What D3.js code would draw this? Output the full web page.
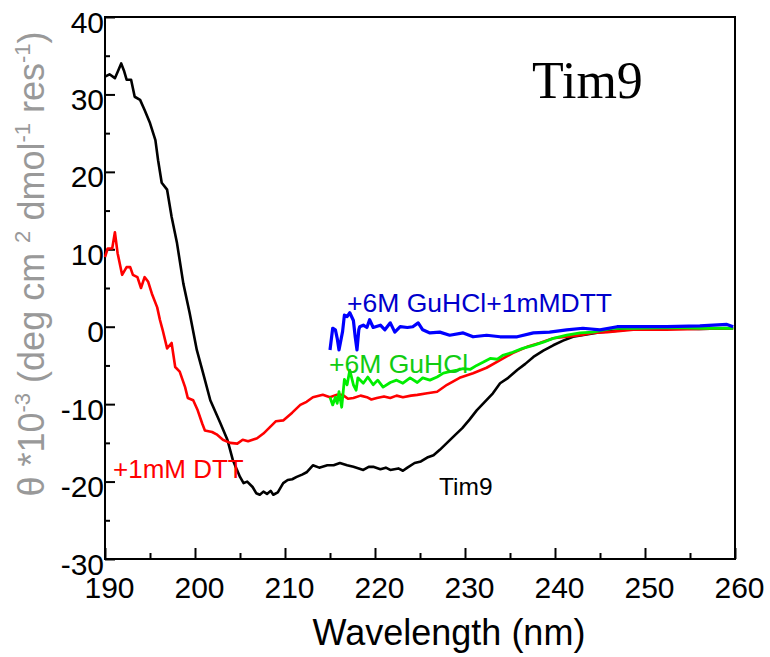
<!DOCTYPE html>
<html>
<head>
<meta charset="utf-8">
<script src="https://cdn.jsdelivr.net/npm/d3@7"></script>
<style>
  body { margin: 0; background: #fff; }
</style>
</head>
<body>
<div id="chart"></div>
<script>
// ---- data (wavelength nm, theta *10^-3) ----
var xTicks = [190, 200, 210, 220, 230, 240, 250, 260];
var yTicks = [-30, -20, -10, 0, 10, 20, 30, 40];

var tim9 = [
  [190.0, 32.3], [190.5, 32.6], [191.1, 32.1], [191.4, 32.9], [191.8, 34.0], [192.1, 33.1],
  [192.4, 31.9], [192.9, 31.9], [193.3, 29.7], [193.9, 29.3], [194.4, 28.0], [195.0, 26.3],
  [195.6, 24.1], [195.9, 21.5], [196.3, 18.6], [196.9, 17.7], [197.4, 14.2], [198.0, 10.8],
  [198.7, 5.6], [199.4, 1.8], [200.2, -3.0], [200.9, -6.0], [201.7, -9.5], [202.8, -12.4],
  [203.6, -14.6], [204.2, -17.2], [205.0, -19.4], [205.4, -20.2], [205.8, -20.0], [206.4, -20.7],
  [206.8, -21.5], [207.2, -21.7], [207.6, -21.3], [208.0, -21.6], [208.4, -21.2], [208.7, -21.7],
  [209.2, -21.4], [209.8, -20.2], [210.3, -19.8], [210.8, -19.7], [211.3, -19.4], [211.9, -19.1],
  [212.4, -18.8], [213.1, -17.9], [213.8, -18.2], [214.7, -17.9], [215.4, -17.9], [216.1, -17.6],
  [216.9, -17.9], [217.6, -18.1], [218.2, -18.3], [218.7, -18.5], [219.3, -18.1], [219.8, -18.1],
  [220.6, -18.4], [221.2, -18.2], [221.7, -18.5], [222.6, -18.3], [223.1, -18.6], [223.6, -18.2],
  [224.4, -17.6], [225.1, -17.4], [225.8, -16.9], [226.5, -16.6], [227.2, -15.9], [228.0, -15.0],
  [228.8, -14.1], [229.7, -13.1], [230.5, -12.0], [231.3, -10.8], [232.2, -9.7], [233.1, -8.6],
  [233.9, -7.3], [234.8, -6.6], [235.8, -5.6], [236.7, -4.8], [237.6, -3.9], [238.7, -3.1],
  [239.8, -2.4], [240.9, -1.8], [242.0, -1.3], [243.5, -1.0], [245.0, -0.7], [246.9, -0.5],
  [248.7, -0.3], [252.0, -0.2], [256.0, -0.3], [259.8, -0.2]
];

var dtt = [
  [190.0, 9.0], [190.3, 10.1], [190.8, 10.1], [191.1, 12.2], [191.4, 9.5], [191.9, 6.7],
  [192.4, 7.7], [192.8, 7.7], [193.1, 6.7], [193.6, 6.4], [194.0, 5.0], [194.4, 6.4],
  [194.8, 5.8], [195.2, 4.3], [195.8, 2.5], [196.1, 0.9], [196.4, -0.4], [196.9, -2.8],
  [197.4, -2.1], [197.8, -5.2], [198.3, -5.8], [198.9, -7.8], [199.2, -9.2], [199.8, -9.5],
  [200.3, -10.8], [200.8, -12.5], [201.1, -13.4], [201.9, -13.6], [202.4, -13.9], [203.1, -14.6],
  [203.9, -15.0], [204.7, -15.1], [205.3, -14.6], [205.9, -14.8], [206.4, -14.6], [206.9, -14.4],
  [207.6, -13.8], [208.3, -13.0], [209.0, -12.2], [209.8, -12.1], [210.8, -11.1], [211.7, -10.1],
  [212.4, -9.7], [213.1, -9.1], [214.2, -8.8], [215.0, -9.1], [215.7, -8.8], [216.4, -8.8],
  [217.0, -9.3], [217.6, -9.2], [218.4, -8.9], [219.1, -9.1], [219.6, -9.4], [220.2, -9.2],
  [221.0, -9.0], [221.7, -9.2], [222.4, -8.9], [223.1, -9.1], [224.0, -8.9], [224.7, -8.8],
  [225.8, -8.6], [226.9, -8.4], [228.0, -7.5], [229.4, -6.6], [230.9, -6.0], [232.4, -5.3],
  [233.9, -4.3], [235.3, -3.4], [236.9, -2.6], [238.3, -2.1], [239.8, -1.5], [241.3, -1.3],
  [242.8, -1.1], [244.2, -0.8], [245.8, -0.7], [248.7, -0.4], [252.4, -0.4], [256.0, -0.3],
  [259.8, -0.2]
];

var guhcl = [
  [215.0, -9.1], [215.3, -10.1], [215.6, -9.1], [215.8, -9.9], [216.0, -8.4], [216.3, -10.4],
  [216.6, -6.8], [216.9, -7.5], [217.2, -5.6], [217.6, -7.5], [217.9, -8.2], [218.1, -6.6],
  [218.7, -7.3], [219.2, -6.5], [219.8, -7.5], [220.3, -6.9], [220.9, -7.8], [221.7, -7.2],
  [222.4, -6.9], [223.1, -7.3], [223.9, -6.6], [224.7, -7.2], [225.3, -6.6], [226.1, -6.9],
  [226.9, -6.5], [227.6, -6.0], [228.3, -5.8], [229.1, -5.6], [229.8, -5.4], [230.6, -5.5],
  [231.3, -5.0], [232.0, -4.6], [232.8, -4.1], [233.6, -4.2], [234.2, -3.7], [235.3, -3.3],
  [236.4, -2.8], [237.6, -2.4], [238.7, -2.0], [239.8, -1.5], [241.3, -1.1], [242.8, -0.8],
  [244.2, -0.7], [246.4, -0.2], [248.7, -0.2], [253.0, -0.1], [256.5, -0.2], [259.8, -0.2]
];

var guhclDtt = [
  [215.0, -3.0], [215.3, -0.2], [215.6, -0.4], [215.8, -1.5], [216.0, -3.0], [216.4, -0.6],
  [216.6, 1.5], [216.9, 1.3], [217.2, 1.8], [217.6, 0.8], [217.8, -1.3], [218.0, -3.0],
  [218.2, -0.4], [218.3, 0.0], [218.7, 0.2], [219.1, -0.1], [219.4, 0.9], [219.8, -0.1],
  [220.6, 0.2], [221.1, -0.4], [221.7, 0.5], [222.2, -0.7], [222.8, 0.0], [223.6, -0.1],
  [224.2, 0.0], [224.8, 0.5], [225.3, -0.4], [226.1, -0.8], [227.2, -0.7], [228.3, -1.1],
  [229.8, -0.8], [230.9, -1.3], [232.4, -1.1], [233.9, -1.3], [235.8, -1.3], [237.6, -0.8],
  [239.4, -0.7], [241.3, -0.4], [243.1, -0.2], [245.0, -0.4], [246.9, 0.0], [248.7, 0.0],
  [252.4, 0.0], [256.1, 0.1], [259.1, 0.3], [259.8, 0.0]
];

// ---- layout ----
var width = 770, height = 657;
var margin = {top: 17, right: 35, bottom: 98, left: 105};
var sans = "Liberation Sans, Arial, sans-serif";

var svg = d3.select("#chart").append("svg")
  .attr("width", width)
  .attr("height", height)
  .style("font-family", sans);

var x = d3.scaleLinear().domain([190, 260]).range([margin.left, width - margin.right]);
var y = d3.scaleLinear().domain([-30, 40]).range([height - margin.bottom, margin.top]);

// minor ticks
svg.append("g")
  .attr("transform", "translate(0," + y(-30) + ")")
  .call(d3.axisBottom(x).tickValues(d3.range(195, 260, 10)).tickSize(-6).tickFormat(""))
  .call(function(g) { g.select(".domain").remove(); })
  .selectAll("line").attr("stroke-width", 2);

svg.append("g")
  .attr("transform", "translate(" + x(190) + ",0)")
  .call(d3.axisLeft(y).tickValues(d3.range(-25, 40, 10)).tickSize(-5).tickFormat(""))
  .call(function(g) { g.select(".domain").remove(); })
  .selectAll("line").attr("stroke-width", 2);

// major ticks + labels (plain hyphen minus like the original)
var plain = function(d) { return String(d); };

var xAxis = svg.append("g")
  .attr("transform", "translate(0," + y(-30) + ")")
  .call(d3.axisBottom(x).tickValues(xTicks).tickSize(-11).tickPadding(18).tickFormat(plain))
  .call(function(g) { g.select(".domain").remove(); });
xAxis.selectAll("line").attr("stroke-width", 2);
xAxis.selectAll("text")
  .attr("font-size", 30)
  .attr("font-family", sans)
  .attr("fill", "#000")
  .attr("dx", 4);

var yAxis = svg.append("g")
  .attr("transform", "translate(" + x(190) + ",0)")
  .call(d3.axisLeft(y).tickValues(yTicks).tickSize(-10).tickPadding(1).tickFormat(plain))
  .call(function(g) { g.select(".domain").remove(); });
yAxis.selectAll("line").attr("stroke-width", 2);
yAxis.selectAll("text")
  .attr("font-size", 30)
  .attr("font-family", sans)
  .attr("fill", "#000")
  .attr("dy", "0.5em");

// frame
svg.append("rect")
  .attr("x", x(190)).attr("y", y(40))
  .attr("width", x(260) - x(190)).attr("height", y(-30) - y(40))
  .attr("fill", "none").attr("stroke", "#000").attr("stroke-width", 2);

// curves
var line = d3.line()
  .x(function(d) { return x(d[0]); })
  .y(function(d) { return y(d[1]); });

var series = [
  {data: tim9, color: "#000000", w: 2.6},
  {data: dtt, color: "#ff0000", w: 2.6},
  {data: guhcl, color: "#00ee00", w: 2.8},
  {data: guhclDtt, color: "#0000ff", w: 3.2}
];

svg.append("g").selectAll("path")
  .data(series)
  .enter()
  .append("path")
    .attr("d", function(d) { return line(d.data); })
    .attr("fill", "none")
    .attr("stroke", function(d) { return d.color; })
    .attr("stroke-width", function(d) { return d.w; })
    .attr("stroke-linejoin", "round");

// annotations
svg.append("text").attr("x", 347).attr("y", 312).attr("font-size", 26.5)
  .attr("fill", "#0000cc").text("+6M GuHCl+1mMDTT");
svg.append("text").attr("x", 329).attr("y", 373).attr("font-size", 26.5)
  .attr("fill", "#11cc11").text("+6M GuHCl");
svg.append("text").attr("x", 113).attr("y", 478).attr("font-size", 26)
  .attr("fill", "#ff0000").text("+1mM DTT");
svg.append("text").attr("x", 439).attr("y", 495).attr("font-size", 24.5)
  .attr("fill", "#000").text("Tim9");

svg.append("text").attr("x", 532).attr("y", 98).attr("font-size", 52)
  .style("font-family", "Liberation Serif, Times New Roman, serif")
  .attr("fill", "#000").text("Tim9");

// axis titles
svg.append("text")
  .attr("x", 449).attr("y", 645)
  .attr("text-anchor", "middle").attr("font-size", 36)
  .attr("fill", "#000").text("Wavelength (nm)");

var yt = svg.append("text")
  .attr("transform", "translate(44,264) rotate(-90)")
  .attr("text-anchor", "middle").attr("font-size", 36)
  .attr("fill", "#999999");
yt.append("tspan").text("\u03b8 *10");
yt.append("tspan").attr("font-size", 22).attr("dy", -14).text("-3");
yt.append("tspan").attr("dy", 14).text(" (deg cm ");
yt.append("tspan").attr("font-size", 22).attr("dy", -14).text("2");
yt.append("tspan").attr("dy", 14).text(" dmol");
yt.append("tspan").attr("font-size", 22).attr("dy", -14).text("-1");
yt.append("tspan").attr("dy", 14).text(" res");
yt.append("tspan").attr("font-size", 22).attr("dy", -14).text("-1");
yt.append("tspan").attr("dy", 14).text(")");
</script>
</body>
</html>
